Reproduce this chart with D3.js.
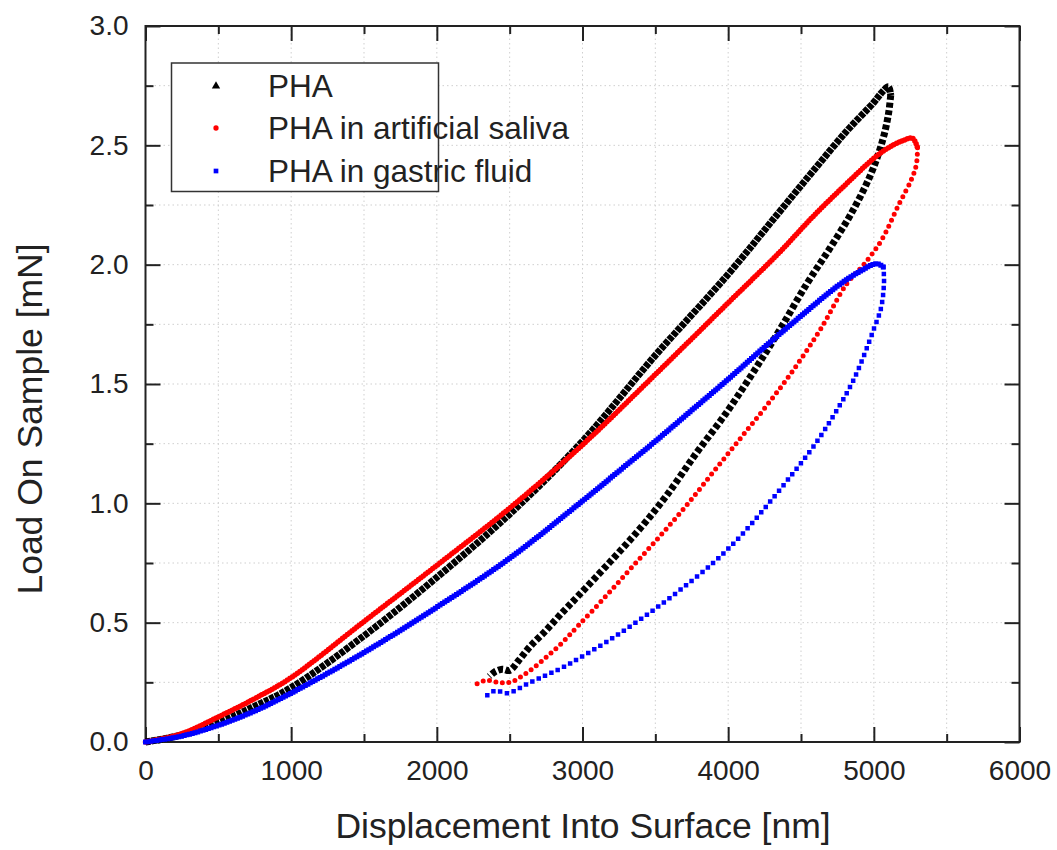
<!DOCTYPE html>
<html>
<head>
<meta charset="utf-8">
<script src="https://cdn.jsdelivr.net/npm/d3@7"></script>
<style>
  body { margin: 0; background: #fff; }
  text { font-family: "Liberation Sans", Arial, sans-serif; fill: #222; }
</style>
</head>
<body>
<div id="chart"></div>
<script>
const width = 1057
const height = 850
const margin = { top: 26, right: 37.5, bottom: 108, left: 145.5 }

// data: [displacement nm, load mN]
const phaLoading = [[0,0],[250,0.03],[500,0.082],[750,0.15],[1000,0.228],[1500,0.445],[2000,0.69],[2500,0.955],[3000,1.26],[3500,1.62],[4000,1.96],[4350,2.22],[4580,2.39],[4814,2.56],[5000,2.68],[5060,2.725],[5100,2.745],[5116,2.71]]
const phaUnloading = [[5116,2.71],[5100,2.63],[5060,2.52],[4980,2.38],[4850,2.22],[4700,2.07],[4540,1.92],[4357,1.73],[4173,1.55],[3988,1.38],[3781,1.21],[3574,1.03],[3389,0.89],[3182,0.75],[2975,0.615],[2850,0.535],[2745,0.465],[2640,0.40],[2560,0.34],[2500,0.30],[2450,0.305],[2400,0.295],[2360,0.275]]

const salivaLoading = [[0,0],[250,0.035],[500,0.105],[750,0.182],[1000,0.27],[1500,0.505],[2000,0.74],[2500,0.98],[3000,1.245],[3500,1.54],[4000,1.84],[4350,2.05],[4580,2.20],[4814,2.34],[5050,2.47],[5200,2.52],[5265,2.53],[5300,2.49]]
const salivaUnloading = [[5300,2.49],[5292,2.42],[5260,2.36],[5170,2.25],[5050,2.10],[4930,2.00],[4814,1.92],[4634,1.73],[4449,1.56],[4265,1.41],[4081,1.27],[3896,1.13],[3712,0.99],[3528,0.86],[3343,0.735],[3159,0.61],[2975,0.49],[2850,0.41],[2722,0.34],[2606,0.285],[2503,0.25],[2420,0.25],[2331,0.258],[2251,0.235]]

const gastricLoading = [[0,0],[250,0.025],[500,0.07],[750,0.13],[1000,0.205],[1500,0.375],[2000,0.565],[2500,0.77],[3000,1.01],[3250,1.135],[3500,1.26],[3750,1.39],[4000,1.52],[4250,1.655],[4500,1.785],[4750,1.91],[4900,1.97],[5019,2.004],[5065,1.99]]
const gastricUnloading = [[5065,1.99],[5070,1.93],[5050,1.82],[5000,1.73],[4863,1.52],[4726,1.37],[4588,1.24],[4450,1.13],[4265,0.99],[4081,0.86],[3896,0.75],[3666,0.635],[3435,0.53],[3205,0.435],[2975,0.35],[2857,0.31],[2750,0.28],[2626,0.245],[2489,0.205],[2400,0.215],[2345,0.195]]

const seriesNames = ["PHA", "PHA in artificial saliva", "PHA in gastric fluid"]
const seriesColors = ["#000000", "#ff0000", "#0000ff"]

const xMajor = [0, 1000, 2000, 3000, 4000, 5000, 6000]
const xMinor = [500, 1500, 2500, 3500, 4500, 5500]
const yMajor = [0, 0.5, 1.0, 1.5, 2.0, 2.5, 3.0]
const yMinor = [0.25, 0.75, 1.25, 1.75, 2.25, 2.75]

const svg = d3.select("div#chart").append("svg").attr("width", width).attr("height", height)

const x = d3.scaleLinear().domain([0, 6000]).range([margin.left, width - margin.right])
const y = d3.scaleLinear().domain([0, 3]).range([height - margin.bottom, margin.top])

// grid
const gridGroup = svg.append("g").attr("class", "gridGroup")
    .attr("stroke", "#cfcfcf").attr("stroke-width", 1).attr("stroke-dasharray", "1.5 3")
gridGroup.selectAll("line.gx").data(xMajor.concat(xMinor).filter(d => d > 0 && d < 6000)).enter()
    .append("line").attr("class", "gx")
    .attr("x1", d => x(d)).attr("x2", d => x(d)).attr("y1", y(0)).attr("y2", y(3))
gridGroup.selectAll("line.gy").data(yMajor.concat(yMinor).filter(d => d > 0 && d < 3)).enter()
    .append("line").attr("class", "gy")
    .attr("y1", d => y(d)).attr("y2", d => y(d)).attr("x1", x(0)).attr("x2", x(6000))

// axes
const axisGroup = svg.append("g").attr("class", "axisGroup")
const fmtX = d3.format("d")
const fmtY = d3.format(".1f")

function styleAxis(g) {
    g.select(".domain").remove()
    g.selectAll(".tick line").attr("stroke", "#222").attr("stroke-width", 2)
    g.selectAll(".tick text").style("font-size", "28px").attr("fill", "#222")
}

axisGroup.append("g").attr("transform", `translate(0, ${y(0)})`)
    .call(d3.axisBottom(x).tickValues(xMajor).tickSize(-15).tickPadding(18).tickFormat(fmtX)).call(styleAxis)
axisGroup.append("g").attr("transform", `translate(0, ${y(0)})`)
    .call(d3.axisBottom(x).tickValues(xMinor).tickSize(-8).tickFormat("")).call(styleAxis)
axisGroup.append("g").attr("transform", `translate(0, ${y(3)})`)
    .call(d3.axisTop(x).tickValues(xMajor).tickSize(-15).tickFormat("")).call(styleAxis)
axisGroup.append("g").attr("transform", `translate(0, ${y(3)})`)
    .call(d3.axisTop(x).tickValues(xMinor).tickSize(-8).tickFormat("")).call(styleAxis)

axisGroup.append("g").attr("transform", `translate(${x(0)}, 0)`)
    .call(d3.axisLeft(y).tickValues(yMajor).tickSize(-15).tickPadding(17).tickFormat(fmtY)).call(styleAxis)
axisGroup.append("g").attr("transform", `translate(${x(0)}, 0)`)
    .call(d3.axisLeft(y).tickValues(yMinor).tickSize(-8).tickFormat("")).call(styleAxis)
axisGroup.append("g").attr("transform", `translate(${x(6000)}, 0)`)
    .call(d3.axisRight(y).tickValues(yMajor).tickSize(-15).tickFormat("")).call(styleAxis)
axisGroup.append("g").attr("transform", `translate(${x(6000)}, 0)`)
    .call(d3.axisRight(y).tickValues(yMinor).tickSize(-8).tickFormat("")).call(styleAxis)

svg.append("rect")
    .attr("x", x(0)).attr("y", y(3))
    .attr("width", x(6000) - x(0)).attr("height", y(0) - y(3))
    .attr("fill", "none").attr("stroke", "#222").attr("stroke-width", 2)

// axis titles
svg.append("text").attr("x", 583).attr("y", 838)
    .attr("text-anchor", "middle").style("font-size", "35.5px")
    .text("Displacement Into Surface [nm]")
svg.append("text").attr("transform", `translate(42, 419) rotate(-90)`)
    .attr("text-anchor", "middle").style("font-size", "35.5px")
    .text("Load On Sample [mN]")

// curves
const elementGroup = svg.append("g").attr("class", "elementGroup")
const line = d3.line().x(d => x(d[0])).y(d => y(d[1])).curve(d3.curveCatmullRom)

const curves = [
    { data: phaLoading, color: seriesColors[0], width: 7, dash: "5 1", cap: "butt" },
    { data: phaUnloading, color: seriesColors[0], width: 7, dash: "5 2.5", cap: "butt" },
    { data: salivaLoading, color: seriesColors[1], width: 5.5, dash: "0 3", cap: "round" },
    { data: salivaUnloading, color: seriesColors[1], width: 5, dash: "0 6.5", cap: "round" },
    { data: gastricLoading, color: seriesColors[2], width: 5, dash: "0 2.8", cap: "square" },
    { data: gastricUnloading, color: seriesColors[2], width: 4.5, dash: "0 7", cap: "square" },
]

elementGroup.selectAll("path").data(curves).enter()
    .append("path")
    .attr("d", d => line(d.data))
    .attr("fill", "none")
    .attr("stroke", d => d.color)
    .attr("stroke-width", d => d.width)
    .attr("stroke-dasharray", d => d.dash)
    .attr("stroke-linecap", d => d.cap)
    .attr("stroke-linejoin", "round")

// legend
const legend = svg.append("g").attr("class", "legend")
legend.append("rect").attr("x", 171.5).attr("y", 63).attr("width", 267).attr("height", 128.5)
    .attr("fill", "#fff").attr("stroke", "#333").attr("stroke-width", 1.5)

const rowY = [86, 128, 171]
const symbols = [d3.symbolTriangle, d3.symbolCircle, d3.symbolSquare]
const symbolSizes = [30, 22, 22]
seriesNames.forEach((name, i) => {
    legend.append("path")
        .attr("d", d3.symbol().type(symbols[i]).size(symbolSizes[i]))
        .attr("transform", `translate(216, ${rowY[i]})`)
        .attr("fill", seriesColors[i])
    legend.append("text").attr("x", 268).attr("y", rowY[i] + 11)
        .style("font-size", "31.5px").text(name)
})
</script>
</body>
</html>
